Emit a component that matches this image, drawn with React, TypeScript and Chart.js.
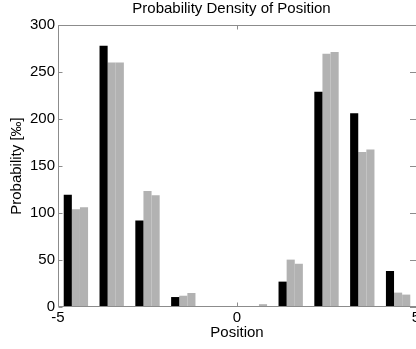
import React, { useEffect, useRef } from "react";
import { Chart, registerables } from "chart.js";

Chart.register(...registerables);

// Bin centres along the position axis
const positions = [-4.5, -3.5, -2.5, -1.5, -0.5, 0.5, 1.5, 2.5, 3.5, 4.5];
// Probability per bin, in per mille
const measured = [119.5, 278, 92, 10.6, 0, 0, 27, 229, 206, 38.3];
const modelA = [104, 260, 123.5, 12, 0, 1, 50.4, 269.4, 165, 15.3];
const modelB = [106, 260, 119, 14.9, 0, 3, 46, 271.3, 167.5, 13.2];

const xTicks = [-5, 0, 5];
const yTicks = [0, 50, 100, 150, 200, 250, 300];

const FONT = "'Liberation Sans', Arial, Helvetica, sans-serif";
const AXIS_GREY = "#8c8c8c";

const toPoints = (ys: number[]) => positions.map((x, i) => ({ x, y: ys[i] }));

// Axis frame (left, top, bottom) with short inward tick marks
const framePlugin = {
  id: "frame",
  afterDatasetsDraw(chart: any) {
    const { ctx, chartArea } = chart;
    const { left, right, top, bottom } = chartArea;
    const xs = chart.scales.x;
    const ys = chart.scales.y;
    const L = Math.round(left) + 0.5;
    const T = Math.round(top) + 0.5;
    const B = Math.round(bottom) - 0.5;
    const R = Math.round(right);
    ctx.save();
    ctx.strokeStyle = AXIS_GREY;
    ctx.lineWidth = 1;
    ctx.beginPath();
    ctx.moveTo(L, B);
    ctx.lineTo(L, T);
    ctx.lineTo(R + 1, T);
    ctx.moveTo(L, B);
    ctx.lineTo(R + 1, B);
    for (const v of yTicks) {
      const py = Math.round(ys.getPixelForValue(v)) + 0.5;
      ctx.moveTo(L, py);
      ctx.lineTo(L + 4, py);
      ctx.moveTo(R + 1, py);
      ctx.lineTo(R - 6, py);
    }
    for (const v of xTicks) {
      const px = Math.round(xs.getPixelForValue(v)) + 0.5;
      ctx.moveTo(px, B);
      ctx.lineTo(px, B - 4);
      ctx.moveTo(px, T);
      ctx.lineTo(px, T + 4);
    }
    ctx.stroke();
    ctx.restore();
  },
};

// Nudge the title a little to the left of the plot centre
const titleShift = {
  id: "titleShift",
  afterLayout(chart: any) {
    const t = chart.titleBlock;
    if (t) t.left -= 11;
  },
};

export default function App() {
  const ref = useRef<HTMLCanvasElement | null>(null);

  useEffect(() => {
    if (!ref.current) return;
    const chart = new Chart(ref.current, {
      type: "bar",
      data: {
        datasets: [
          { label: "measured", data: toPoints(measured), backgroundColor: "#000000" },
          { label: "model A", data: toPoints(modelA), backgroundColor: "#b2b2b2" },
          { label: "model B", data: toPoints(modelB), backgroundColor: "#b2b2b2" },
        ],
      },
      options: {
        animation: false,
        responsive: true,
        maintainAspectRatio: false,
        layout: { padding: 0 },
        datasets: {
          bar: { categoryPercentage: 0.68, barPercentage: 1.0, borderWidth: 0 },
        },
        plugins: {
          legend: { display: false },
          tooltip: { enabled: false },
          title: {
            display: true,
            text: "Probability Density of Position",
            fullSize: false,
            color: "#000",
            font: { family: FONT, size: 15, weight: "normal" },
            padding: { top: 0, bottom: 7 },
          },
        },
        scales: {
          x: {
            type: "linear",
            position: "bottom",
            min: -5,
            max: 5,
            offset: false,
            grid: { display: false, drawTicks: false },
            border: { display: false },
            afterBuildTicks: (s: any) => {
              s.ticks = xTicks.map((v) => ({ value: v }));
            },
            ticks: {
              color: "#000",
              padding: 2,
              maxRotation: 0,
              autoSkip: false,
              font: { family: FONT, size: 15 },
              callback: (v: any) => String(v),
            },
            title: {
              display: true,
              text: "Position",
              color: "#000",
              font: { family: FONT, size: 15 },
              padding: { top: 0, bottom: 7 },
            },
            afterFit: (s: any) => {
              s.height = 42;
              s.paddingLeft = 0;
              s.paddingRight = 0;
            },
          },
          y: {
            type: "linear",
            min: 0,
            max: 300,
            grid: { display: false, drawTicks: false },
            border: { display: false },
            afterBuildTicks: (s: any) => {
              s.ticks = yTicks.map((v) => ({ value: v }));
            },
            ticks: {
              color: "#000",
              padding: 3,
              font: { family: FONT, size: 15 },
              callback: (v: any) => String(v),
            },
            title: {
              display: true,
              text: "Probability [‰]",
              color: "#000",
              font: { family: FONT, size: 15 },
              padding: { top: 8, bottom: 0 },
            },
            afterFit: (s: any) => {
              s.width = 58;
              s.paddingTop = 0;
              s.paddingBottom = 0;
            },
          },
        },
      },
      plugins: [framePlugin, titleShift],
    });
    return () => chart.destroy();
  }, []);

  return (
    <div style={{ position: "fixed", left: 0, top: 0, width: 416, height: 349, background: "#fff" }}>
      <canvas ref={ref} />
    </div>
  );
}
